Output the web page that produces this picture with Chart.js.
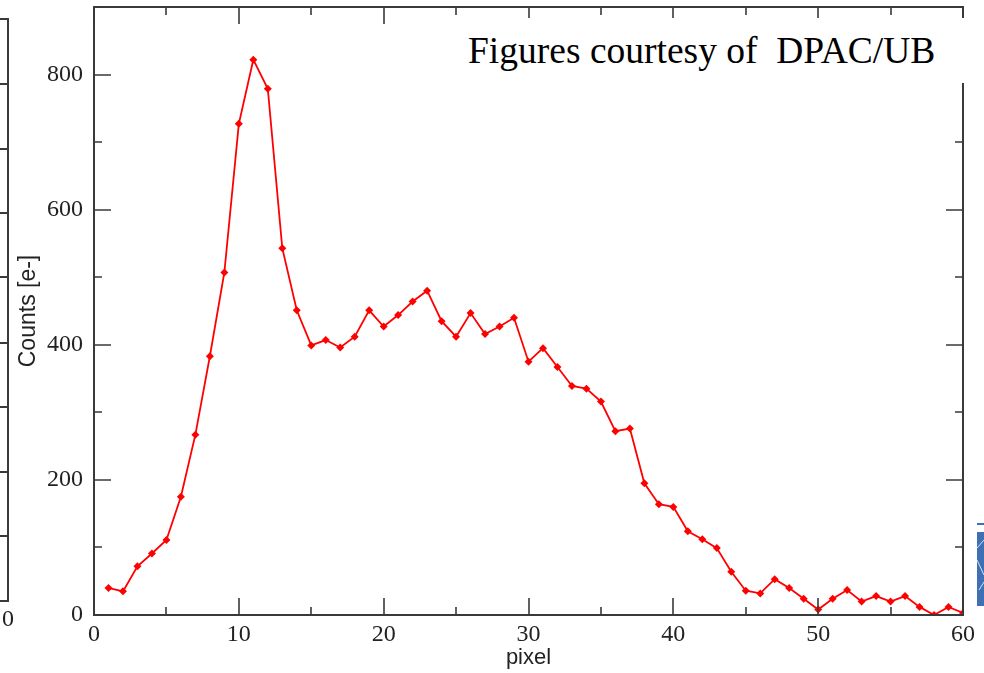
<!DOCTYPE html>
<html>
<head>
<meta charset="utf-8">
<script src="https://cdn.jsdelivr.net/npm/chart.js@4.4.1/dist/chart.umd.min.js"></script>
<style>
  body { margin: 0; background: #fff; }
  .wrap { position: relative; width: 984px; height: 673px; }
  .credit {
    position: absolute; left: 458px; top: 18px; width: 526px; height: 65px;
    background: #fff; font-family: "Liberation Serif", serif; font-size: 37.5px;
    color: #000; white-space: pre; line-height: 66px; padding-left: 10px; box-sizing: border-box;
  }
</style>
</head>
<body>
<div class="wrap">
  <canvas id="my-chart" width="984" height="673"></canvas>
  <div class="credit">Figures courtesy of  DPAC/UB</div>
</div>
<script>
// pixel index along the scan
const pixels = [1, 2, 3, 4, 5, 6, 7, 8, 9, 10,
    11, 12, 13, 14, 15, 16, 17, 18, 19, 20,
    21, 22, 23, 24, 25, 26, 27, 28, 29, 30,
    31, 32, 33, 34, 35, 36, 37, 38, 39, 40,
    41, 42, 43, 44, 45, 46, 47, 48, 49, 50,
    51, 52, 53, 54, 55, 56, 57, 58, 59, 60];
// counts in electrons
const counts = [40, 35, 72, 91, 111, 175, 267, 383, 507, 727,
    822, 779, 543, 451, 399, 407, 396, 412, 451, 427,
    444, 464, 480, 435, 412, 447, 416, 427, 440, 375,
    395, 367, 339, 335, 316, 272, 276, 195, 164, 160,
    124, 112, 99, 64, 36, 32, 53, 40, 24, 8,
    24, 37, 20, 28, 20, 28, 12, 0, 12, 3];
const xTicks = [0, 10, 20, 30, 40, 50, 60];
const yTicks = [0, 200, 400, 600, 800];

const axisColor = '#3a3a3a';

// draws the xmgrace-like frame with inward ticks, plus the bits of neighbouring figures
const framePlugin = {
    id: 'frame',
    afterDraw(chart) {
        const ctx = chart.ctx;
        const xs = chart.scales.x, ys = chart.scales.y;
        const a = chart.chartArea;
        ctx.save();
        ctx.strokeStyle = axisColor;
        ctx.lineWidth = 2;
        ctx.strokeRect(a.left, a.top, a.right - a.left, a.bottom - a.top);
        ctx.lineWidth = 1.6;
        ctx.beginPath();
        for (let v = 0; v <= 60; v += 5) {
            const px = Math.round(xs.getPixelForValue(v));
            const len = v % 10 === 0 ? 17 : 8;
            ctx.moveTo(px, a.bottom); ctx.lineTo(px, a.bottom - len);
            ctx.moveTo(px, a.top); ctx.lineTo(px, a.top + len);
        }
        for (let v = 0; v <= 900; v += 100) {
            const py = Math.round(ys.getPixelForValue(v));
            const len = v % 200 === 0 ? 17 : 8;
            ctx.moveTo(a.left, py); ctx.lineTo(a.left + len, py);
            ctx.moveTo(a.right, py); ctx.lineTo(a.right - len, py);
        }
        ctx.stroke();

        // edge of the figure on the left
        ctx.lineWidth = 2;
        ctx.beginPath();
        ctx.moveTo(0, 19); ctx.lineTo(8, 19); ctx.lineTo(8, 601); ctx.lineTo(0, 601);
        [84, 149, 213, 277, 343, 407, 472, 536].forEach(function (y) {
            ctx.moveTo(0, y); ctx.lineTo(8, y);
        });
        ctx.stroke();
        ctx.fillStyle = '#222';
        ctx.font = '24px "Liberation Serif"';
        ctx.textAlign = 'center';
        ctx.textBaseline = 'middle';
        ctx.fillText('0', 8, 620);

        // logo sliver on the right
        ctx.fillStyle = '#3f6fb5';
        ctx.fillRect(977, 523, 7, 2);
        ctx.fillRect(977, 532, 7, 74);
        ctx.strokeStyle = 'rgba(255,255,255,0.8)';
        ctx.lineWidth = 1;
        ctx.beginPath();
        ctx.moveTo(977, 548); ctx.lineTo(984, 540);
        ctx.moveTo(977, 560); ctx.lineTo(984, 575);
        ctx.moveTo(979, 590); ctx.lineTo(984, 582);
        ctx.stroke();
        ctx.restore();
    }
};

let myChart = document.querySelector('#my-chart').getContext('2d');
const chart = new Chart(myChart, {
    type: 'line',
    data: {
        datasets: [{
            label: 'Counts',
            data: pixels.map((p, i) => ({ x: p, y: counts[i] })),
            borderColor: '#ff0000',
            backgroundColor: '#ff0000',
            borderWidth: 1.8,
            pointStyle: 'rectRot',
            pointRadius: 4,
            pointBorderWidth: 0,
            tension: 0
        }]
    },
    options: {
        responsive: false,
        animation: false,
        layout: { padding: { top: 7, right: 21, left: 0, bottom: 0 } },
        plugins: { legend: { display: false }, tooltip: { enabled: false } },
        scales: {
            x: {
                type: 'linear',
                min: 0, max: 60,
                grid: { display: false, drawTicks: false },
                border: { display: false },
                afterBuildTicks: s => { s.ticks = xTicks.map(v => ({ value: v })); },
                afterFit: s => { s.height = 58; s.paddingLeft = 0; s.paddingRight = 0; },
                ticks: {
                    padding: 5,
                    color: '#222',
                    maxRotation: 0,
                    font: { family: 'Liberation Serif', size: 24 }
                },
                title: {
                    display: true, text: 'pixel', color: '#222',
                    padding: { top: 0, bottom: 2 },
                    font: { family: 'Liberation Sans', size: 22 }
                }
            },
            y: {
                min: 0, max: 900,
                grid: { display: false, drawTicks: false },
                border: { display: false },
                afterBuildTicks: s => { s.ticks = yTicks.map(v => ({ value: v })); },
                afterFit: s => { s.width = 94; s.paddingTop = 0; s.paddingBottom = 0; },
                ticks: {
                    padding: 11,
                    color: '#222',
                    font: { family: 'Liberation Serif', size: 24 }
                },
                title: {
                    display: true, text: 'Counts [e-]', color: '#222',
                    padding: { top: 15, bottom: 0 },
                    font: { family: 'Liberation Sans', size: 23 }
                }
            }
        }
    },
    plugins: [framePlugin]
});
</script>
</body>
</html>
